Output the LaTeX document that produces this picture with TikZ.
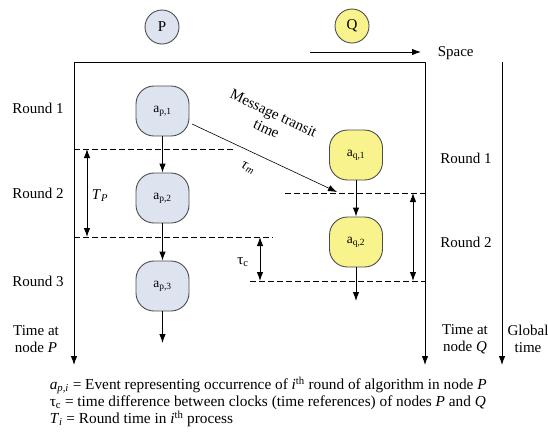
\documentclass[tikz,border=0pt]{standalone}
\usepackage{fontspec}
\setmainfont{Liberation Serif}
\usetikzlibrary{arrows.meta}
\definecolor{pfill}{RGB}{221,228,240}
\definecolor{qfill}{RGB}{248,243,140}
\begin{document}
\begin{tikzpicture}[x=1pt,y=-1pt,line join=round,>={Latex[length=9pt,width=6.5pt]},line width=0.9pt]
			\tikzset{every node/.style={font=\fontsize{15}{17}\selectfont},
				event/.style={draw=black!70,rounded corners=18pt,minimum width=53pt,minimum height=50pt,font=\fontsize{13.5}{15}\selectfont},
				pev/.style={event,fill=pfill},
				qev/.style={event,fill=qfill},
				proc/.style={circle,draw=black!70,minimum size=34pt,inner sep=0pt},
				rnd/.style={dash pattern=on 6pt off 3pt,line width=0.8pt},
				lbl/.style={align=center,inner sep=1pt}}
			\useasboundingbox (0,0) rectangle (548,432);
			\node[proc,fill=pfill] (P) at (162,27) {P};
			\node[proc,fill=qfill] (Q) at (352,26) {Q};
			\coordinate (ptop) at (74,62);
			\coordinate (pend) at (74,365);
			\coordinate (qtop) at (425,62);
			\coordinate (qend) at (425,365);
			\coordinate (gtop) at (502,62);
			\coordinate (gend) at (502,365);
			\draw[<->] (pend)--(ptop)--(qtop)--(qend);
			\draw[->] (gtop)--(gend);
			\coordinate (sp1) at (310,52);
			\coordinate (sp2) at (421,52);
			\node[anchor=west] (space) at (434,53) {Space};
			\draw[->] (sp1)--(sp2);
			\node[pev] (ap1) at (162.5,111) {a\textsubscript{p,1}};
			\node[pev] (ap2) at (162.5,198) {a\textsubscript{p,2}};
			\node[pev] (ap3) at (162.5,286) {a\textsubscript{p,3}};
			\node[qev] (aq1) at (356,155) {a\textsubscript{q,1}};
			\node[qev] (aq2) at (356,242) {a\textsubscript{q,2}};
			\coordinate (apend) at (162.5,343);
			\coordinate (aqend) at (356,301);
			\draw[->] (ap1)--(ap2);
			\draw[->] (ap2)--(ap3);
			\draw[->] (ap3)--(apend);
			\draw[->] (aq1)--(aq2);
			\draw[->] (aq2)--(aqend);
			\coordinate (p1a) at (74,149);
			\coordinate (p1b) at (233,149);
			\coordinate (p2a) at (74,237);
			\coordinate (p2b) at (273,237);
			\coordinate (q1a) at (285,193);
			\coordinate (q1b) at (425,193);
			\coordinate (q2a) at (250,281);
			\coordinate (q2b) at (425,281);
			\draw[rnd] (p1a)--(p1b);
			\draw[rnd] (p2a)--(p2b);
			\draw[rnd] (q1a)--(q1b);
			\draw[rnd] (q2a)--(q2b);
			\draw[<->] (87,149)--(87,237);
			\draw[<->] (260,237)--(260,281);
			\draw[<->] (413,193)--(413,281);
			\coordinate (msg1) at (192,124);
			\coordinate (msg2) at (337,192);
			\draw[->,line width=0.6pt] (msg1)--(msg2);
			\node[lbl,rotate=-25] (transit) at (270,121) {Message transit\\time};
			\node[lbl,rotate=-25] (taum) at (248,168) {\textit{τ}\textsubscript{\textit{m}}};
			\node (tp) at (100,196) {\textit{T}\textsubscript{\textit{P}}};
			\node (tc) at (243,262) {τ\textsubscript{c}};
			\foreach \y/\r in {108/1,193/2,281/3}
			\node (lr\r) at (38,\y) {Round \r};
			\foreach \y/\r in {158/1,242/2}
			\node (rr\r) at (466,\y) {Round \r};
			\node[lbl] (tatp) at (36,339) {Time at\\node \textit{P}};
			\node[lbl] (tatq) at (465,339) {Time at\\node \textit{Q}};
			\node[lbl] (glob) at (528,339) {Global\\time};
			\node[anchor=west,align=left,font=\fontsize{15.3}{17}\selectfont] (legend) at (46,402) {\textit{a}\textsubscript{\textit{p,i}} = Event representing occurrence of \textit{i}\textsuperscript{th} round of algorithm in node \textit{P}\\
				τ\textsubscript{c} = time difference between clocks (time references) of nodes \textit{P} and \textit{Q}\\
				\textit{T}\textsubscript{\textit{i}} = Round time in \textit{i}\textsuperscript{th} process};
		\end{tikzpicture}
\end{document}
